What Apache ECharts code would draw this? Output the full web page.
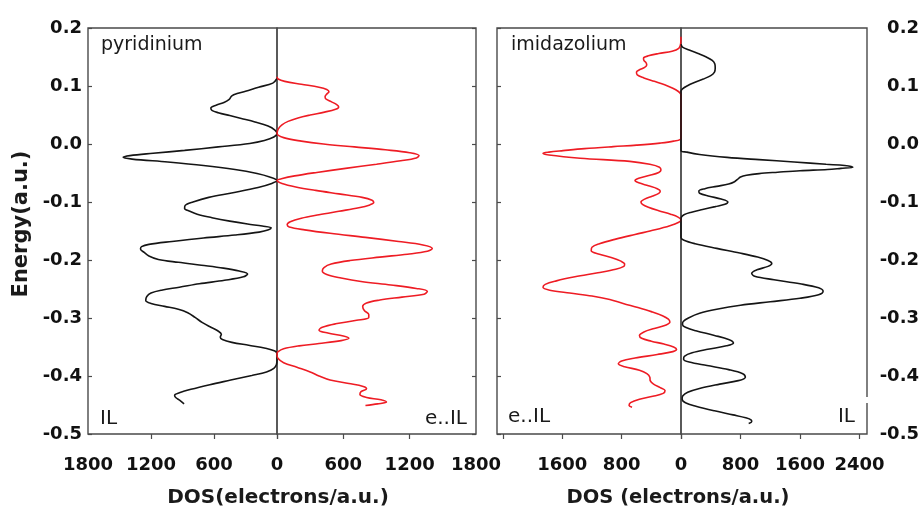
<!DOCTYPE html>
<html>
<head>
<meta charset="utf-8">
<script src="https://cdn.jsdelivr.net/npm/echarts@6/dist/echarts.min.js"></script>
<style>
  html, body { margin: 0; padding: 0; background: #fff; }
  #chart { width: 924px; height: 511px; }
</style>
</head>
<body>
<div id="chart"></div>
<script>
// Density of states, pairs of [energy (a.u.), DOS (electrons/a.u.)]
// Pyridinium: bare ionic liquid (drawn to the left of zero)
const pyridiniumIL = [
  [0.113,0],[0.105,40],[0.098,175],[0.091,300],[0.087,380],[0.083,430],[0.077,455],[0.072,500],
  [0.067,580],[0.062,630],[0.058,620],[0.054,560],[0.049,450],[0.044,340],[0.038,210],[0.031,85],
  [0.024,20],[0.018,0],[0.012,30],[0.006,120],[0.001,260],[-0.005,560],[-0.011,880],[-0.016,1180],
  [-0.020,1400],[-0.023,1465],[-0.026,1380],[-0.031,1040],[-0.037,700],[-0.044,400],[-0.051,190],
  [-0.057,70],[-0.063,0],[-0.068,50],[-0.075,180],[-0.084,420],[-0.092,650],[-0.100,800],[-0.106,875],
  [-0.111,880],[-0.116,830],[-0.121,760],[-0.127,620],[-0.133,450],[-0.138,280],[-0.1415,140],
  [-0.1445,55],[-0.148,80],[-0.152,170],[-0.157,400],[-0.162,700],[-0.168,1000],[-0.173,1220],
  [-0.177,1290],[-0.181,1300],[-0.187,1265],[-0.193,1220],[-0.199,1130],[-0.204,940],[-0.209,720],
  [-0.214,510],[-0.219,360],[-0.224,280],[-0.229,320],[-0.235,500],[-0.241,740],[-0.247,930],
  [-0.252,1100],[-0.257,1200],[-0.263,1240],[-0.270,1250],[-0.275,1200],[-0.280,1070],[-0.285,940],
  [-0.291,850],[-0.299,780],[-0.308,710],[-0.316,630],[-0.322,565],[-0.328,530],[-0.333,540],
  [-0.337,520],[-0.342,430],[-0.347,270],[-0.352,110],[-0.357,20],[-0.362,0],[-0.372,0],[-0.380,5],
  [-0.387,30],[-0.393,100],[-0.399,240],[-0.407,440],[-0.415,640],[-0.423,820],[-0.429,930],
  [-0.433,975],[-0.437,965],[-0.442,925],[-0.448,885]
];
// Pyridinium with excess electron (drawn to the right of zero)
const pyridiniumEIL = [
  [0.116,0],[0.112,10],[0.108,70],[0.103,220],[0.098,380],[0.094,450],[0.090,470],[0.086,450],
  [0.082,435],[0.078,440],[0.073,490],[0.068,540],[0.064,558],[0.060,530],[0.055,430],[0.050,300],
  [0.045,190],[0.039,100],[0.033,45],[0.026,12],[0.018,0],[0.011,60],[0.005,220],[0.000,420],
  [-0.005,700],[-0.010,980],[-0.015,1200],[-0.020,1285],[-0.024,1260],[-0.029,1120],[-0.035,900],
  [-0.042,620],[-0.049,360],[-0.055,160],[-0.060,40],[-0.063,0],[-0.068,45],[-0.074,170],
  [-0.080,350],[-0.086,560],[-0.092,770],[-0.097,860],[-0.101,875],[-0.105,840],[-0.110,740],
  [-0.116,560],[-0.122,380],[-0.128,220],[-0.134,120],[-0.139,92],[-0.143,110],[-0.148,250],
  [-0.154,480],[-0.161,800],[-0.168,1100],[-0.174,1320],[-0.180,1405],[-0.185,1360],[-0.190,1180],
  [-0.195,930],[-0.201,660],[-0.207,490],[-0.213,425],[-0.219,410],[-0.225,450],[-0.231,580],
  [-0.237,760],[-0.243,1030],[-0.249,1260],[-0.254,1360],[-0.259,1330],[-0.264,1130],[-0.269,930],
  [-0.274,810],[-0.280,775],[-0.287,790],[-0.294,830],[-0.299,830],[-0.304,720],[-0.310,530],
  [-0.316,410],[-0.321,380],[-0.326,460],[-0.331,600],[-0.335,650],[-0.339,580],[-0.344,380],
  [-0.348,200],[-0.353,60],[-0.358,10],[-0.362,0],[-0.370,10],[-0.377,60],[-0.385,180],
  [-0.393,300],[-0.400,380],[-0.407,480],[-0.413,650],[-0.418,780],[-0.422,810],[-0.427,760],
  [-0.432,750],[-0.437,810],[-0.441,940],[-0.445,990],[-0.448,910],[-0.451,800]
];
// Imidazolium with excess electron (drawn to the left of zero)
const imidazoliumEIL = [
  [0.185,0],[0.172,5],[0.165,30],[0.160,120],[0.156,300],[0.152,440],[0.148,505],[0.144,500],
  [0.140,470],[0.136,462],[0.132,490],[0.128,560],[0.124,600],[0.119,590],[0.114,500],[0.108,360],
  [0.102,220],[0.096,110],[0.091,40],[0.087,8],[0.083,0],[0.010,0],[0.005,100],[0.0015,283],
  [-0.002,600],[-0.0045,913],[-0.008,1300],[-0.0115,1590],[-0.014,1780],[-0.016,1860],[-0.019,1780],
  [-0.0245,1360],[-0.030,690],[-0.035,420],[-0.040,290],[-0.045,270],[-0.049,300],[-0.054,420],
  [-0.059,570],[-0.063,620],[-0.067,570],[-0.072,440],[-0.077,320],[-0.081,280],[-0.085,300],
  [-0.090,390],[-0.095,490],[-0.100,540],[-0.104,520],[-0.109,440],[-0.115,300],[-0.121,140],
  [-0.126,40],[-0.131,0],[-0.135,30],[-0.141,150],[-0.148,350],[-0.156,620],[-0.164,880],
  [-0.172,1100],[-0.178,1200],[-0.184,1210],[-0.190,1100],[-0.196,930],[-0.202,810],[-0.207,760],
  [-0.211,770],[-0.216,880],[-0.222,1120],[-0.229,1430],[-0.236,1680],[-0.242,1830],[-0.247,1860],
  [-0.252,1770],[-0.257,1500],[-0.262,1200],[-0.268,960],[-0.275,780],[-0.282,580],[-0.289,400],
  [-0.296,250],[-0.302,170],[-0.307,150],[-0.312,200],[-0.318,360],[-0.324,500],[-0.330,560],
  [-0.335,530],[-0.340,400],[-0.345,230],[-0.350,100],[-0.354,60],[-0.358,110],[-0.363,320],
  [-0.369,620],[-0.374,800],[-0.379,845],[-0.384,760],[-0.390,560],[-0.396,460],[-0.402,420],
  [-0.408,415],[-0.414,370],[-0.420,280],[-0.425,215],[-0.430,240],[-0.435,380],[-0.440,560],
  [-0.446,680],[-0.451,700],[-0.454,660]
];
// Imidazolium: bare ionic liquid (drawn to the right of zero)
const imidazoliumIL = [
  [0.172,0],[0.167,20],[0.162,110],[0.156,230],[0.150,340],[0.144,420],[0.138,455],[0.131,460],
  [0.124,450],[0.118,400],[0.112,300],[0.106,180],[0.100,80],[0.095,20],[0.091,0],[-0.011,0],
  [-0.014,80],[-0.018,250],[-0.023,620],[-0.027,1050],[-0.031,1520],[-0.035,1950],[-0.037,2200],
  [-0.040,2310],[-0.042,2150],[-0.044,1970],[-0.046,1600],[-0.0486,1300],[-0.051,1050],[-0.054,880],
  [-0.057,800],[-0.061,760],[-0.065,720],[-0.069,640],[-0.073,480],[-0.077,320],[-0.081,240],
  [-0.085,250],[-0.090,380],[-0.095,540],[-0.100,630],[-0.104,590],[-0.108,460],[-0.113,290],
  [-0.118,130],[-0.122,40],[-0.126,5],[-0.130,0],[-0.161,0],[-0.166,40],[-0.172,190],[-0.180,480],
  [-0.188,790],[-0.195,1030],[-0.201,1170],[-0.206,1220],[-0.211,1170],[-0.217,1020],[-0.223,950],
  [-0.228,990],[-0.234,1250],[-0.241,1600],[-0.248,1850],[-0.254,1910],[-0.260,1850],[-0.266,1600],
  [-0.272,1200],[-0.278,800],[-0.285,480],[-0.292,250],[-0.300,100],[-0.306,30],[-0.311,20],
  [-0.316,60],[-0.322,200],[-0.330,450],[-0.337,640],[-0.343,705],[-0.348,610],[-0.354,360],
  [-0.360,150],[-0.366,45],[-0.371,35],[-0.376,110],[-0.382,350],[-0.389,640],[-0.396,830],
  [-0.402,865],[-0.408,770],[-0.414,520],[-0.421,260],[-0.428,90],[-0.434,25],[-0.440,15],
  [-0.446,60],[-0.452,200],[-0.460,450],[-0.467,700],[-0.472,870],[-0.476,945],[-0.479,950],
  [-0.482,910]
];

// Axis ranges and tick values
const energyMin = -0.5, energyMax = 0.2, energyStep = 0.1;
const pyrTicks = [0, 600, 1200];
const pyrLabelsLeft = [0, 600, 1200, 1800];
const pyrLabelsRight = [600, 1200, 1800];
const imiTicks = [0, 800, 1600, 2400];
const imiLabelsLeft = [800, 1600];
const imiLabelsRight = [0, 800, 1600, 2400];

const FONT = 'DejaVu Sans';
const AXIS_COLOR = '#4a4a4a';
const BLACK = '#151515';
const RED = '#ee1c24';

const chart = echarts.init(document.getElementById('chart'), null, { renderer: 'canvas' });

const gridBase = { top: 28, height: 406, show: true, borderColor: AXIS_COLOR, borderWidth: 1.4, backgroundColor: 'transparent' };

function xAxisCfg(gridIndex, max, inverse, ticks, labels) {
  return {
    type: 'value', gridIndex, position: 'bottom', min: 0, max, inverse,
    axisLine: { show: false, onZero: false },
    splitLine: { show: false },
    axisTick: { show: true, inside: false, length: 5, customValues: ticks, lineStyle: { color: AXIS_COLOR, width: 1.2 } },
    axisLabel: {
      show: labels.length > 0, customValues: labels, margin: 22,
      formatter: v => String(Math.round(v)),
      color: '#111', fontFamily: FONT, fontWeight: 'bold', fontSize: 18
    }
  };
}

const fmtE = v => (Math.abs(v) < 1e-9 ? '0.0' : v.toFixed(1));

function yAxisCfg(gridIndex, position, showTicks, labelOpts) {
  return {
    type: 'value', gridIndex, position, min: energyMin, max: energyMax, interval: energyStep,
    axisLine: { show: false, onZero: false },
    splitLine: { show: false },
    axisTick: { show: showTicks, inside: true, length: 4, lineStyle: { color: AXIS_COLOR, width: 1.2 } },
    axisLabel: labelOpts ? Object.assign({
      show: true, color: '#111', fontFamily: FONT, fontWeight: 'bold', fontSize: 18, formatter: fmtE
    }, labelOpts) : { show: false }
  };
}

function curve(name, pts, idx, color) {
  return {
    name, type: 'line', xAxisIndex: idx, yAxisIndex: idx,
    data: pts.map(p => [p[1], p[0]]),
    smooth: 0.35, showSymbol: false, clip: false, silent: true,
    lineStyle: { color, width: 1.6 }
  };
}

const textStyle = (size, weight) => ({ fontFamily: FONT, fontSize: size, fontWeight: weight, fill: '#1a1a1a' });

chart.setOption({
  animation: false,
  backgroundColor: '#fff',
  grid: [
    Object.assign({ left: 88, width: 189 }, gridBase),
    Object.assign({ left: 277, width: 199 }, gridBase),
    Object.assign({ left: 497, width: 184 }, gridBase),
    Object.assign({ left: 681, width: 186 }, gridBase)
  ],
  xAxis: [
    xAxisCfg(0, 1800, true, pyrTicks, pyrLabelsLeft),
    xAxisCfg(1, 1800, false, pyrTicks, pyrLabelsRight),
    xAxisCfg(2, 2480, true, imiTicks, imiLabelsLeft),
    xAxisCfg(3, 2500, false, imiTicks, imiLabelsRight)
  ],
  yAxis: [
    yAxisCfg(0, 'left', true, { margin: 6 }),
    yAxisCfg(1, 'right', true, null),
    yAxisCfg(2, 'left', true, null),
    yAxisCfg(3, 'right', false, { margin: 52, align: 'right' })
  ],
  series: [
    curve('pyridinium IL', pyridiniumIL, 0, BLACK),
    curve('pyridinium e..IL', pyridiniumEIL, 1, RED),
    curve('imidazolium e..IL', imidazoliumEIL, 2, RED),
    curve('imidazolium IL', imidazoliumIL, 3, BLACK)
  ],
  graphic: [
    // short break in the right frame line beside the "IL" tag
    { type: 'rect', shape: { x: 864, y: 397, width: 6, height: 6 }, style: { fill: '#fff' }, z: 100 },
    { type: 'text', left: 101, top: 36, style: Object.assign({ text: 'pyridinium' }, textStyle(19, 'normal')) },
    { type: 'text', left: 511, top: 36, style: Object.assign({ text: 'imidazolium' }, textStyle(19, 'normal')) },
    { type: 'text', left: 100, top: 409, style: Object.assign({ text: 'IL' }, textStyle(20, 'normal')) },
    { type: 'text', right: 924 - 467, top: 409, style: Object.assign({ text: 'e..IL' }, textStyle(20, 'normal')) },
    { type: 'text', left: 508, top: 407, style: Object.assign({ text: 'e..IL' }, textStyle(20, 'normal')) },
    { type: 'text', right: 924 - 855, top: 407, style: Object.assign({ text: 'IL' }, textStyle(20, 'normal')) },
    { type: 'text', x: 278, y: 498, style: Object.assign({ text: 'DOS(electrons/a.u.)', align: 'center', verticalAlign: 'middle' }, textStyle(20, 'bold')) },
    { type: 'text', x: 678, y: 498, style: Object.assign({ text: 'DOS (electrons/a.u.)', align: 'center', verticalAlign: 'middle' }, textStyle(19.5, 'bold')) },
    { type: 'text', x: 22, y: 224, rotation: Math.PI / 2, style: Object.assign({ text: 'Energy(a.u.)', align: 'center', verticalAlign: 'middle' }, textStyle(21, 'bold')) }
  ]
});
</script>
</body>
</html>
